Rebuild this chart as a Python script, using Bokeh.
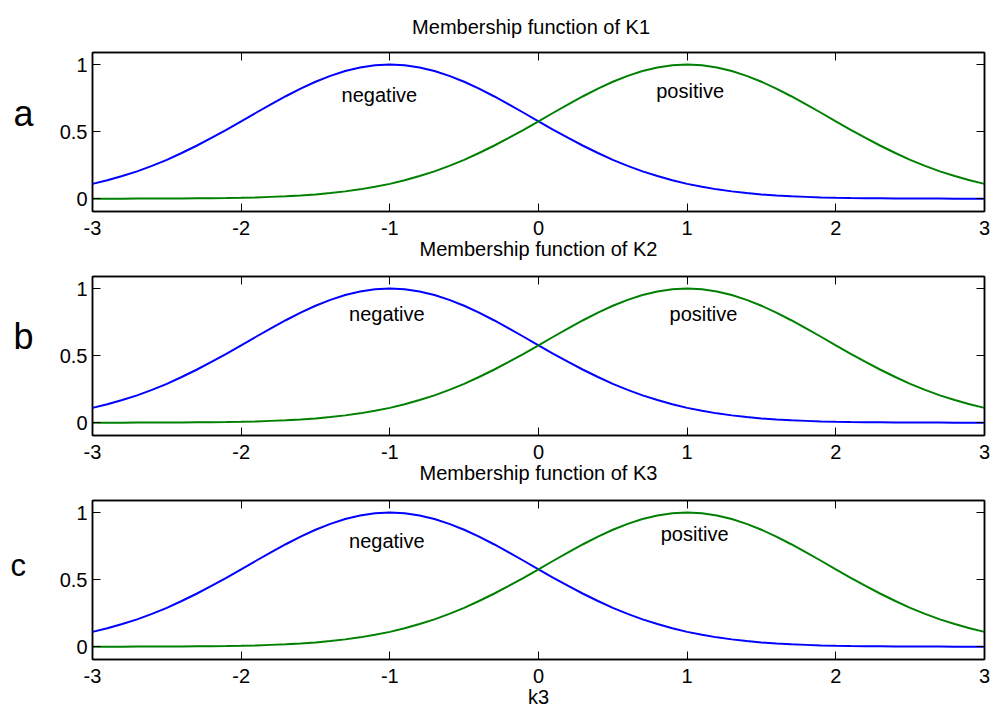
from bokeh.plotting import figure
from bokeh.layouts import column, row
from bokeh.models import Range1d, LinearAxis, FixedTicker, Label, CustomJSTickFormatter
from bokeh.core.properties import value
from bokeh.embed import file_html
from bokeh.resources import INLINE

# ---- data ----
x_vals = [-3.0, -2.9, -2.8, -2.7, -2.6, -2.5, -2.4, -2.3, -2.2, -2.1, -2.0,
          -1.9, -1.8, -1.7, -1.6, -1.5, -1.4, -1.3, -1.2, -1.1, -1.0,
          -0.9, -0.8, -0.7, -0.6, -0.5, -0.4, -0.3, -0.2, -0.1, 0.0,
          0.1, 0.2, 0.3, 0.4, 0.5, 0.6, 0.7, 0.8, 0.9, 1.0,
          1.1, 1.2, 1.3, 1.4, 1.5, 1.6, 1.7, 1.8, 1.9, 2.0,
          2.1, 2.2, 2.3, 2.4, 2.5, 2.6, 2.7, 2.8, 2.9, 3.0]

negative_mf = [0.111, 0.138, 0.169, 0.204, 0.245, 0.290, 0.341, 0.395, 0.453, 0.514, 0.577,
               0.641, 0.704, 0.764, 0.821, 0.872, 0.916, 0.952, 0.978, 0.995, 1.000,
               0.995, 0.978, 0.952, 0.916, 0.872, 0.821, 0.764, 0.704, 0.641, 0.577,
               0.514, 0.453, 0.395, 0.341, 0.290, 0.245, 0.204, 0.169, 0.138, 0.111,
               0.089, 0.070, 0.055, 0.042, 0.032, 0.024, 0.018, 0.014, 0.010, 0.007,
               0.005, 0.004, 0.003, 0.002, 0.001, 0.001, 0.001, 0.000, 0.000, 0.000]

positive_mf = [0.000, 0.000, 0.000, 0.001, 0.001, 0.001, 0.002, 0.003, 0.004, 0.005, 0.007,
               0.010, 0.014, 0.018, 0.024, 0.032, 0.042, 0.055, 0.070, 0.089, 0.111,
               0.138, 0.169, 0.204, 0.245, 0.290, 0.341, 0.395, 0.453, 0.514, 0.577,
               0.641, 0.704, 0.764, 0.821, 0.872, 0.916, 0.952, 0.978, 0.995, 1.000,
               0.995, 0.978, 0.952, 0.916, 0.872, 0.821, 0.764, 0.704, 0.641, 0.577,
               0.514, 0.453, 0.395, 0.341, 0.290, 0.245, 0.204, 0.169, 0.138, 0.111]

x_ticks = [-3, -2, -1, 0, 1, 2, 3]
x_tick_labels = {-3: "-3", -2: "-2", -1: "-1", 0: "0", 1: "1", 2: "2", 3: "3"}
y_ticks = [0, 0.5, 1]
y_tick_labels = {0: "0", 0.5: "0.5", 1: "1"}

titles = ["Membership function of K1", "Membership function of K2", "Membership function of K3"]
x_label_last = "k3"
panel_letters = ["a", "b", "c"]
neg_label_pos = [(-1.07, 0.77), (-1.02, 0.81), (-1.02, 0.79)]
pos_label_pos = [(1.02, 0.80), (1.11, 0.81), (1.05, 0.84)]

FONT = "Liberation Sans"
FS = "20px"

LETTER_W = 50
MAIN_W = 995 - LETTER_W
TITLE1_H = 40
panel_h = [222, 224, 224]
border_top = [12, 14, 14]
border_bottom = [50, 50, 50]
letter_xy = [(13, 85), (13, 84), (10, 92)]
letter_fs = ["36px", "36px", "31px"]


def blank_fig(w, h, xr, yr, **kw):
    f = figure(width=w, height=h, output_backend="svg", toolbar_location=None,
               x_range=xr, y_range=yr, x_axis_type=None, y_axis_type=None,
               min_border=0, **kw)
    f.outline_line_color = None
    f.xgrid.visible = False
    f.ygrid.visible = False
    f.background_fill_color = "white"
    f.border_fill_color = "white"
    return f


def make_panel(i):
    p = figure(width=MAIN_W, height=panel_h[i], output_backend="svg", toolbar_location=None,
               x_range=Range1d(-3, 3), y_range=Range1d(-0.095, 1.09),
               min_border_left=92 - LETTER_W, min_border_right=11,
               min_border_top=border_top[i], min_border_bottom=border_bottom[i])
    p.xgrid.visible = False
    p.ygrid.visible = False
    p.outline_line_color = "black"
    p.outline_line_width = 1.5
    p.background_fill_color = "white"
    p.border_fill_color = "white"

    for ax in p.xaxis:
        ax.ticker = FixedTicker(ticks=x_ticks)
        ax.major_label_overrides = x_tick_labels
        ax.major_label_standoff = 9
    for ax in p.yaxis:
        ax.ticker = FixedTicker(ticks=y_ticks)
        ax.major_label_overrides = y_tick_labels
        ax.major_label_standoff = 5
    for ax in list(p.xaxis) + list(p.yaxis):
        ax.major_tick_in = 8
        ax.major_tick_out = 0
        ax.minor_tick_in = 0
        ax.minor_tick_out = 0
        ax.axis_line_width = 1.5
        ax.major_tick_line_width = 1
        ax.major_label_text_font = FONT
        ax.major_label_text_font_size = FS
        ax.major_label_text_color = "black"

    # the title of the next panel sits directly under this panel's tick labels
    lab = titles[i + 1] if i < 2 else x_label_last
    p.xaxis.axis_label = lab
    p.xaxis.axis_label_text_font = FONT
    p.xaxis.axis_label_text_font_size = FS
    p.xaxis.axis_label_text_font_style = "normal"
    p.xaxis.axis_label_text_color = "black"
    p.xaxis.axis_label_standoff = 0

    blank = CustomJSTickFormatter(code="return '';")
    top = LinearAxis(ticker=FixedTicker(ticks=x_ticks), formatter=blank,
                     major_tick_in=8, major_tick_out=0, minor_tick_in=0, minor_tick_out=0,
                     axis_line_width=1.5, major_label_standoff=0, major_label_text_font_size="1px")
    right = LinearAxis(ticker=FixedTicker(ticks=y_ticks), formatter=blank,
                       major_tick_in=8, major_tick_out=0, minor_tick_in=0, minor_tick_out=0,
                       axis_line_width=1.5, major_label_standoff=0, major_label_text_font_size="1px")
    p.add_layout(top, "above")
    p.add_layout(right, "right")

    p.line(x_vals, negative_mf, line_color="#0000FF", line_width=2)
    p.line(x_vals, positive_mf, line_color="#008000", line_width=2)

    nx, ny = neg_label_pos[i]
    px_, py_ = pos_label_pos[i]
    p.add_layout(Label(x=nx, y=ny, text="negative", text_font=FONT, text_font_size=FS,
                       text_align="center", text_baseline="middle", text_color="black"))
    p.add_layout(Label(x=px_, y=py_, text="positive", text_font=FONT, text_font_size=FS,
                       text_align="center", text_baseline="middle", text_color="black"))

    # panel letter
    lf = blank_fig(LETTER_W, panel_h[i], Range1d(0, LETTER_W), Range1d(panel_h[i], 0))
    lx, ly = letter_xy[i]
    lf.text(x=[lx], y=[ly], text=[panel_letters[i]], text_font=value(FONT),
            text_font_size=letter_fs[i], text_align="left", text_baseline="alphabetic",
            text_color="black")
    return row(lf, p, spacing=0)


# first title
tf = blank_fig(995, TITLE1_H, Range1d(-3, 3), Range1d(TITLE1_H, 0),
               min_border_left=92, min_border_right=11)
tf.min_border_left = 92
tf.min_border_right = 11
tf.text(x=[-0.05], y=[26], text=[titles[0]], text_font=value(FONT), text_font_size=FS,
        text_align="center", text_baseline="alphabetic", text_color="black")

layout = column(tf, *[make_panel(i) for i in range(3)], spacing=0)

with open("out.html", "w") as f:
    f.write(file_html(layout, INLINE))
